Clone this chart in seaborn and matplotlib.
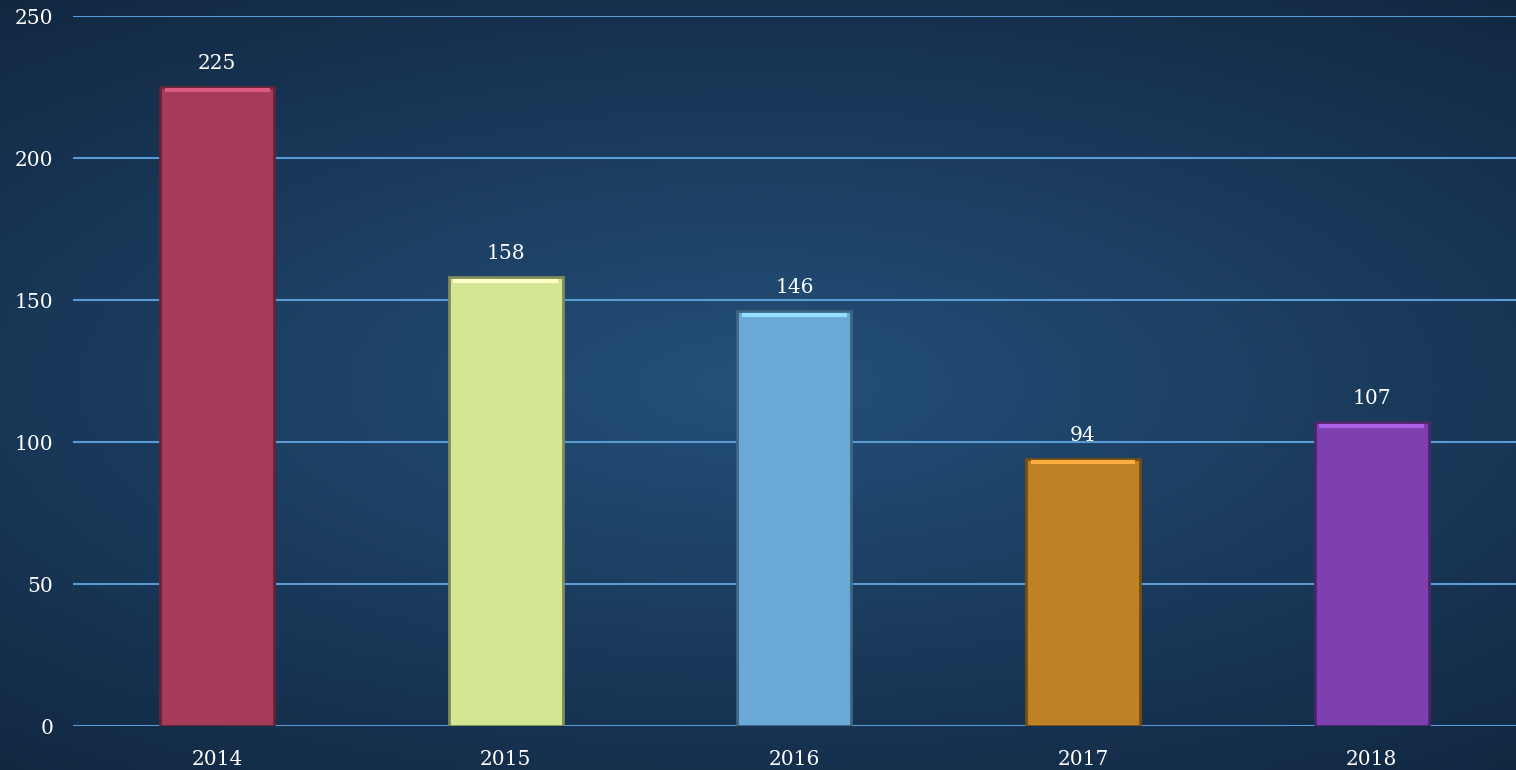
import matplotlib.pyplot as plt
import matplotlib.colors as mcolors
import seaborn as sns
import numpy as np
import pandas as pd

# Chart data
years = ['2014', '2015', '2016', '2017', '2018']
counts = [225, 158, 146, 94, 107]
bar_colors = ['#A63A5A', '#D2E694', '#6AA8D6', '#C08025', '#7E40B0']
y_ticks = [0, 50, 100, 150, 200, 250]

sns.set_theme(style='white')
plt.rcParams['font.family'] = ['DejaVu Serif']

df = pd.DataFrame({'Year': years, 'Count': counts})

fig = plt.figure(figsize=(15.16, 7.7), dpi=100)

# Background: dark navy with a soft vignette
bg_ax = fig.add_axes([0, 0, 1, 1], zorder=-10)
yy, xx = np.mgrid[-1:1:200j, -1:1:400j]
r = np.sqrt((xx * 0.8) ** 2 + (yy * 1.0) ** 2)
bg_ax.imshow(r, cmap=sns.blend_palette(['#24507A', '#1B3B5D', '#112740'], as_cmap=True),
             aspect='auto', extent=[0, 1, 0, 1], vmin=0, vmax=1.3)
bg_ax.axis('off')

ax = fig.add_axes([0.048, 0.0571, 0.952, 0.9221])
ax.set_facecolor('none')

sns.barplot(data=df, x='Year', y='Count', hue='Year', palette=bar_colors,
            legend=False, width=0.395, ax=ax, saturation=1,
            linewidth=2, zorder=3)

# darker rim + light top highlight, for the bevelled look
for patch, c in zip(ax.patches, bar_colors):
    rgb = np.array(mcolors.to_rgb(c))
    patch.set_edgecolor(tuple(rgb * 0.6))
    x0, w, h = patch.get_x(), patch.get_width(), patch.get_height()
    ax.plot([x0 + w * 0.04, x0 + w * 0.96], [h - 1.2, h - 1.2],
            color=tuple(np.clip(rgb * 1.2 + 0.08, 0, 1)), lw=3,
            solid_capstyle='butt', zorder=4)

for container in ax.containers:
    ax.bar_label(container, padding=10, color='white', fontsize=14.5)

ax.set_ylim(0, 250)
ax.set_xlim(-0.5, 4.5)
ax.set_yticks(y_ticks)
ax.yaxis.grid(True, color='#5B9BD5', linewidth=1.5, zorder=0)
ax.set_axisbelow(True)
for s in ax.spines.values():
    s.set_visible(False)
ax.tick_params(axis='both', length=0, colors='white', labelsize=14.5)
ax.tick_params(axis='y', pad=14)
ax.tick_params(axis='x', pad=17)
ax.set_xlabel('')
ax.set_ylabel('')

fig.savefig('out.png', dpi=100)
